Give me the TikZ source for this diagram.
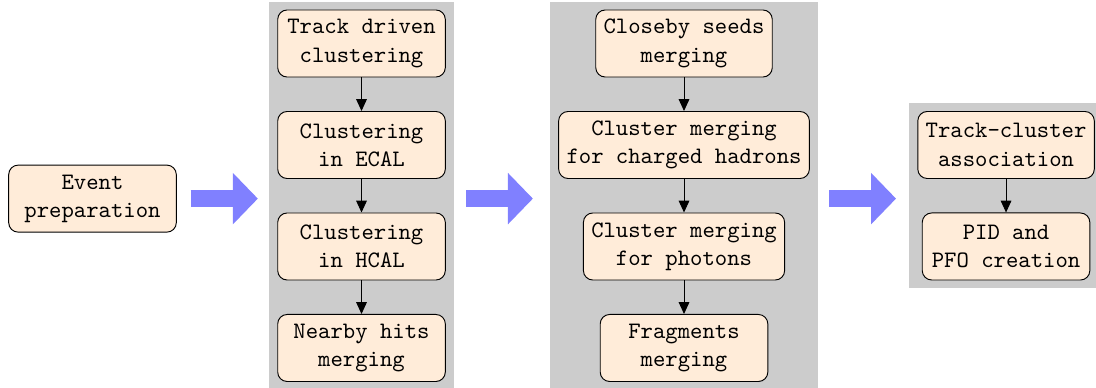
\documentclass[tikz,border=0pt]{standalone}
\usetikzlibrary{positioning,fit,backgrounds,arrows.meta}
\begin{document}
\begin{tikzpicture}[
  stepbox/.style={draw, rounded corners, fill=orange!15, align=center, font=\ttfamily,
    minimum width=2.5cm, minimum height=1cm},
  panel/.style={fill=gray!40},
  flow/.style={-{Triangle[length=5pt,width=4.5pt]}},
  bigarrow/.style={line width=7.2pt, blue!50, -{Triangle[length=10.6pt,width=21.2pt]}},
  node distance=5mm
]
\useasboundingbox (0, 0) rectangle (16.35, -5.774);

\node[stepbox] (event) at (1.38, -2.963) {Event\\preparation};

% first stage
\node[stepbox] (track) at (5.393, -0.649) {Track driven\\clustering};
\node[stepbox, below=of track] (ecal) {Clustering\\in ECAL};
\node[stepbox, below=of ecal] (hcal) {Clustering\\in HCAL};
\node[stepbox, below=of hcal] (nearby) {Nearby hits\\merging};
\draw[flow] (track) -- (ecal);
\draw[flow] (ecal) -- (hcal);
\draw[flow] (hcal) -- (nearby);

% second stage
\node[stepbox] (seeds) at (10.204, -0.649) {Closeby seeds\\merging};
\node[stepbox, below=of seeds] (hadrons) {Cluster merging\\for charged hadrons};
\node[stepbox, below=of hadrons] (photons) {Cluster merging\\for photons};
\node[stepbox, below=of photons] (fragments) {Fragments\\merging};
\draw[flow] (seeds) -- (hadrons);
\draw[flow] (hadrons) -- (photons);
\draw[flow] (photons) -- (fragments);

% third stage
\node[stepbox] (assoc) at (15.008, -2.163) {Track-cluster\\association};
\node[stepbox, below=of assoc] (pfo) {PID and\\PFO creation};
\draw[flow] (assoc) -- (pfo);

\begin{scope}[on background layer]
\node[panel, fit=(track)(nearby)] (panA) {};
\node[panel, fit=(seeds)(hadrons)(fragments)] (panB) {};
\node[panel, fit=(assoc)(pfo)] (panC) {};
\end{scope}

\draw[bigarrow, shorten <=5.9pt, shorten >=4.7pt] (event.east) -- (event.east -| panA.west);
\draw[bigarrow, shorten <=5.1pt, shorten >=7.2pt] (event.east -| panA.east) -- (event.east -| panB.west);
\draw[bigarrow, shorten <=4.7pt, shorten >=5.5pt] (event.east -| panB.east) -- (event.east -| panC.west);

\end{tikzpicture}
\end{document}
